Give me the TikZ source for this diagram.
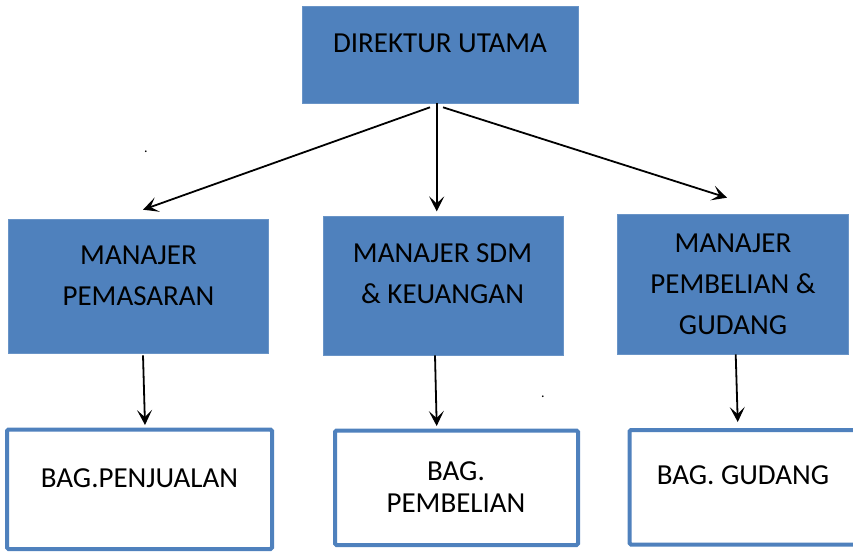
\documentclass[tikz,border=0pt]{standalone}
\usepackage{fontspec}
\setmainfont{Carlito}
\usetikzlibrary{arrows.meta}
\definecolor{boxblue}{RGB}{79,129,189}
\tikzset{
  fillbox/.style={rectangle, fill=boxblue, draw=boxblue!85!white, line width=0.6pt, inner sep=0pt},
  linebox/.style={rectangle, fill=white, draw=boxblue, line width=4pt, rounded corners=1.5pt, inner sep=0pt},
  boxtext/.style={anchor=north, inner sep=0pt, align=center, font=\fontsize{29}{41}\selectfont},
  arr/.style={line width=1.8pt, -{Stealth[length=15pt,width=15pt,inset=7pt]}},
  dottext/.style={inner sep=0pt, font=\fontsize{14}{16}\selectfont}
}
\begin{document}
\begin{tikzpicture}[x=1pt,y=-1pt]
\useasboundingbox (0,0) rectangle (853,551);
% boxes
\node[fillbox, minimum width=276pt, minimum height=97pt] (d) at (440,54.5) {};
\node[fillbox, minimum width=259.5pt, minimum height=134pt] (m1) at (138.3,286) {};
\node[fillbox, minimum width=240pt, minimum height=139pt] (m2) at (443,285.5) {};
\node[fillbox, minimum width=231pt, minimum height=140pt] (m3) at (732.5,284) {};
\node[linebox, minimum width=265pt, minimum height=119.5pt] (b1) at (139.5,489.25) {};
\node[linebox, minimum width=243pt, minimum height=114.5pt] (b2) at (456.5,487.75) {};
\node[linebox, minimum width=226.5pt, minimum height=114.5pt] (b3) at (742.75,487.25) {};
% texts
\node[boxtext] (td) at (440,33.3) {DIREKTUR UTAMA};
\node[boxtext] (tm1) at (138.5,245.3) {MANAJER\\PEMASARAN};
\node[boxtext] (tm2) at (442.5,243.8) {MANAJER SDM\\\& KEUANGAN};
\node[boxtext] (tm3) at (733,233.8) {MANAJER\\PEMBELIAN \&\\GUDANG};
\node[boxtext] (tb1) at (139.5,468.3) {BAG.PENJUALAN};
\node[boxtext, font=\fontsize{29}{31.5}\selectfont] (tb2) at (456,461.8) {BAG.\\PEMBELIAN};
\node[boxtext] (tb3) at (743,465.3) {BAG. GUDANG};
% stray dots
\node[dottext] (dot1) at (146,152) {.};
\node[dottext] (dot2) at (543,397) {.};
% connectors
\draw[arr] ([xshift=-10pt,yshift=-4pt]d.south) -- ([xshift=4.7pt,yshift=9pt]m1.north);
\draw[arr] ([xshift=-3.3pt]d.south) -- ([xshift=-6.3pt,yshift=4.3pt]m2.north);
\draw[arr] ([xshift=3pt,yshift=-4pt]d.south) -- ([xshift=-5.5pt,yshift=16pt]m3.north);
\draw[arr] ([xshift=4.7pt,yshift=-2pt]m1.south) -- ([xshift=5.5pt,yshift=2.5pt]b1.north);
\draw[arr] ([xshift=-8pt]m2.south) -- ([xshift=-19.8pt,yshift=2.5pt]b2.north);
\draw[arr] ([xshift=3.2pt]m3.south) -- ([xshift=-5pt,yshift=6pt]b3.north);
\end{tikzpicture}
\end{document}
